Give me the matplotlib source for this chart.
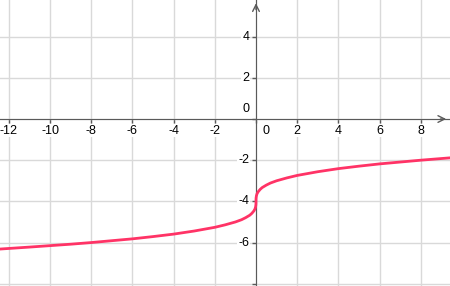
import numpy as np
import matplotlib
matplotlib.use('Agg')
import matplotlib.pyplot as plt

# curve points
curve_x = [-12.5, -11, -10, -9, -8, -7, -6, -5, -4, -3, -2, -1.5, -1, -0.7, -0.5,
           -0.3, -0.2, -0.1, -0.05, -0.02, -0.005, -0.001, 0, 0.001, 0.005, 0.02,
           0.05, 0.1, 0.2, 0.3, 0.5, 0.7, 1, 1.5, 2, 3, 4, 5, 6, 7, 8, 9, 9.5]
curve_y = [-6.32, -6.22, -6.15, -6.08, -6.00, -5.91, -5.82, -5.71, -5.59, -5.44,
           -5.26, -5.14, -5.00, -4.89, -4.79, -4.67, -4.58, -4.46, -4.37, -4.27,
           -4.17, -4.10, -4.00, -3.90, -3.83, -3.73, -3.63, -3.54, -3.42, -3.33,
           -3.21, -3.11, -3.00, -2.86, -2.74, -2.56, -2.41, -2.29, -2.18, -2.09,
           -2.00, -1.92, -1.88]

x_ticks = [-12, -10, -8, -6, -4, -2, 2, 4, 6, 8]
y_ticks = [4, 2, -2, -4, -6]

xmin, xmax = -12.43, 9.42
ymin, ymax = -8.11, 5.78

fig = plt.figure(figsize=(4.5, 2.86), dpi=100)
ax = fig.add_axes([0, 0, 1, 1])
ax.set_xlim(xmin, xmax)
ax.set_ylim(ymin, ymax)

grid_c = '#d9d9d9'
axis_c = '#5a5a5a'

ax.set_xticks(np.arange(-12, 10, 2))
ax.set_yticks(np.arange(-8, 6, 2))
ax.grid(True, color=grid_c, lw=1)
ax.tick_params(labelbottom=False, labelleft=False, length=3, width=1,
               color=axis_c, direction='out')
for s in ['top', 'right']:
    ax.spines[s].set_visible(False)
ax.spines['left'].set_position(('data', 0))
ax.spines['bottom'].set_position(('data', 0))
ax.spines['left'].set_color(axis_c)
ax.spines['bottom'].set_color(axis_c)

# arrow heads
ax.annotate('', xy=(xmax - 0.05, 0), xytext=(xmax - 0.6, 0),
            arrowprops=dict(arrowstyle='->', color=axis_c, lw=1, mutation_scale=12))
ax.annotate('', xy=(0, ymax - 0.02), xytext=(0, ymax - 0.6),
            arrowprops=dict(arrowstyle='->', color=axis_c, lw=1, mutation_scale=12))

lbl = dict(fontsize=9, color='black', family='Liberation Sans',
           bbox=dict(facecolor='white', edgecolor='none', pad=0.5))
for t in x_ticks:
    ax.text(t, -0.56, '%d' % t, ha='center', va='center', **lbl)
for t in y_ticks:
    ax.text(-0.33, t, '%d' % t, ha='right', va='center', **lbl)
ax.text(-0.33, 0.2, '0', ha='right', va='bottom', **lbl)
ax.text(0.33, -0.56, '0', ha='left', va='center', **lbl)

ax.plot(curve_x, curve_y, color='#ff3366', lw=2, solid_capstyle='round', zorder=5)

fig.savefig('out.png', dpi=100)
